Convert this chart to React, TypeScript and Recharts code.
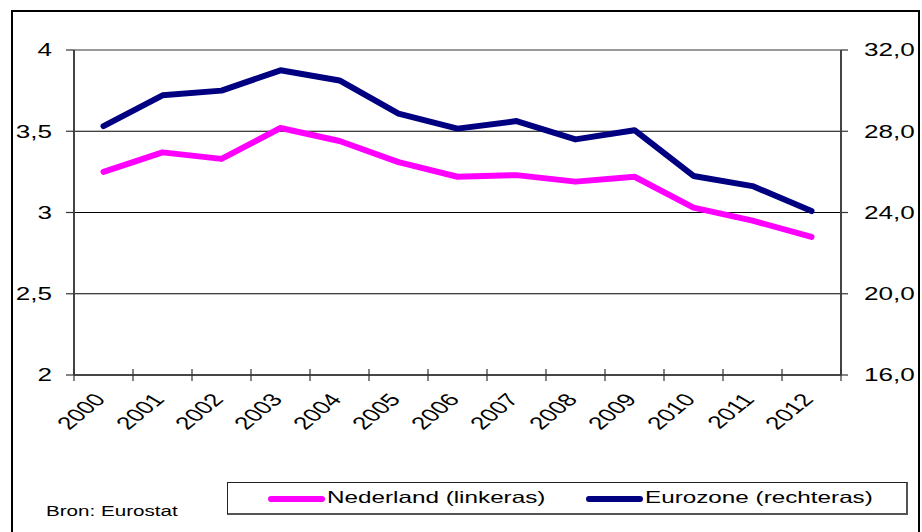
import React from 'react';
import { LineChart, Line, XAxis, YAxis, CartesianGrid, ReferenceLine } from 'recharts';

const years = ['2000', '2001', '2002', '2003', '2004', '2005', '2006', '2007', '2008', '2009', '2010', '2011', '2012'];
const nederland = [3.25, 3.37, 3.33, 3.52, 3.44, 3.31, 3.22, 3.23, 3.19, 3.22, 3.03, 2.95, 2.85];
const eurozone = [28.25, 29.77, 30.0, 31.0, 30.5, 28.87, 28.13, 28.5, 27.6, 28.05, 25.8, 25.3, 24.07];
const leftTicks = [2, 2.5, 3, 3.5, 4];
const rightTicks = [16, 20, 24, 28, 32];
const seriesNames = ['Nederland (linkeras)', 'Eurozone (rechteras)'];
const seriesColors = ['#FF00FF', '#000080'];
const sourceText = 'Bron: Eurostat';

const data = years.map((y, i) => ({ year: y, nl: nederland[i], ez: eurozone[i] }));

const FONT = '"Liberation Sans", Arial, sans-serif';
const SX = 1.45;
const PLOT_W = 922 - 74 - 81;
const HALF_BAND = PLOT_W / years.length / 2;

const fmtLeft = (v: number) => String(v).replace('.', ',');
const fmtRight = (v: number) => v.toFixed(1).replace('.', ',');

const LeftTick = (props: any) => {
  const { x, y, payload } = props;
  return (
    <text x={0} y={0} transform={`translate(${x},${y}) scale(${SX},1)`} textAnchor="end" dy="0.36em"
      fontSize={18} fontFamily={FONT} fill="#000">{fmtLeft(payload.value)}</text>
  );
};

const RightTick = (props: any) => {
  const { x, y, payload } = props;
  return (
    <text x={0} y={0} transform={`translate(${x},${y}) scale(${SX},1)`} textAnchor="start" dy="0.36em"
      fontSize={18} fontFamily={FONT} fill="#000">{fmtRight(payload.value)}</text>
  );
};

const XTick = (props: any) => {
  const { x, y, payload, index, visibleTicksCount } = props;
  const count = visibleTicksCount || years.length;
  const left = x - HALF_BAND;
  const right = x + HALF_BAND;
  return (
    <g>
      <line x1={left} x2={left} y1={y - 6} y2={y + 6} stroke="#333" strokeWidth={1.2} />
      {index === count - 1 && (
        <line x1={right} x2={right} y1={y - 6} y2={y + 6} stroke="#333" strokeWidth={1.2} />
      )}
      <text x={0} y={0} transform={`translate(${x + 3},${y + 25}) scale(${SX},1) rotate(-50)`} textAnchor="end"
        fontSize={18} fontFamily={FONT} fill="#000">{payload.value}</text>
    </g>
  );
};

const LegendBox = () => {
  const offsets = [40, 358];
  return (
    <div style={{ position: 'absolute', left: 227, top: 482, width: 681, height: 33, boxSizing: 'border-box', border: '1px solid #222', borderRightColor: '#555', borderBottomColor: '#555', borderRightWidth: 2, borderBottomWidth: 2, background: '#fff' }}>
      {seriesNames.map((name, i) => (
        <React.Fragment key={i}>
          <div style={{ position: 'absolute', left: offsets[i], top: 13, width: 57, height: 6, borderRadius: 3, background: seriesColors[i] }} />
          <span style={{ position: 'absolute', left: offsets[i] + 59, top: 6, fontFamily: FONT, fontSize: 16.5, lineHeight: '16.5px', color: '#000', whiteSpace: 'nowrap', transform: 'scale(1.47,1)', transformOrigin: 'left center' }}>{name}</span>
        </React.Fragment>
      ))}
    </div>
  );
};

export default function App() {
  return (
    <div style={{ position: 'absolute', left: 0, top: 0, width: 922, height: 532, background: '#fff', overflow: 'hidden' }}>
      <div style={{ position: 'absolute', left: 11, top: 10, width: 905, height: 540, border: '2px solid #000', borderBottom: 'none' }} />
      <LineChart width={922} height={532} data={data} margin={{ top: 50, right: 0, left: 0, bottom: 0 }} style={{ position: 'absolute', left: 0, top: 0 }}>
        <CartesianGrid yAxisId="left" vertical={false} stroke="#000" strokeWidth={1.2} />
        <XAxis dataKey="year" height={157} tick={<XTick />} tickLine={false} tickSize={0} tickMargin={0}
          padding={{ left: HALF_BAND, right: HALF_BAND }}
          axisLine={{ stroke: '#333', strokeWidth: 1.5 }} interval={0} />
        <YAxis yAxisId="left" orientation="left" width={74} domain={[2, 4]} ticks={leftTicks} tick={<LeftTick />}
          tickSize={8} tickMargin={14} tickLine={{ stroke: '#333', strokeWidth: 1.2 }} axisLine={{ stroke: '#444', strokeWidth: 2 }} allowDataOverflow />
        <YAxis yAxisId="right" orientation="right" width={81} domain={[16, 32]} ticks={rightTicks} tick={<RightTick />}
          tickSize={7} tickMargin={16} tickLine={{ stroke: '#333', strokeWidth: 1.2 }} axisLine={{ stroke: '#444', strokeWidth: 2 }} allowDataOverflow />
        <ReferenceLine yAxisId="left" y={4} stroke="#999" strokeWidth={2} />
        <Line yAxisId="left" type="linear" dataKey="nl" name={seriesNames[0]} stroke={seriesColors[0]} strokeWidth={6}
          dot={false} strokeLinejoin="round" strokeLinecap="round" isAnimationActive={false} />
        <Line yAxisId="right" type="linear" dataKey="ez" name={seriesNames[1]} stroke={seriesColors[1]} strokeWidth={6}
          dot={false} strokeLinejoin="round" strokeLinecap="round" isAnimationActive={false} />
      </LineChart>
      <LegendBox />
      <span style={{ position: 'absolute', left: 46, top: 503, fontFamily: FONT, fontSize: 15.5, lineHeight: '15.5px', color: '#000', whiteSpace: 'nowrap', transform: 'scale(1.33,1)', transformOrigin: 'left center' }}>{sourceText}</span>
    </div>
  );
}
